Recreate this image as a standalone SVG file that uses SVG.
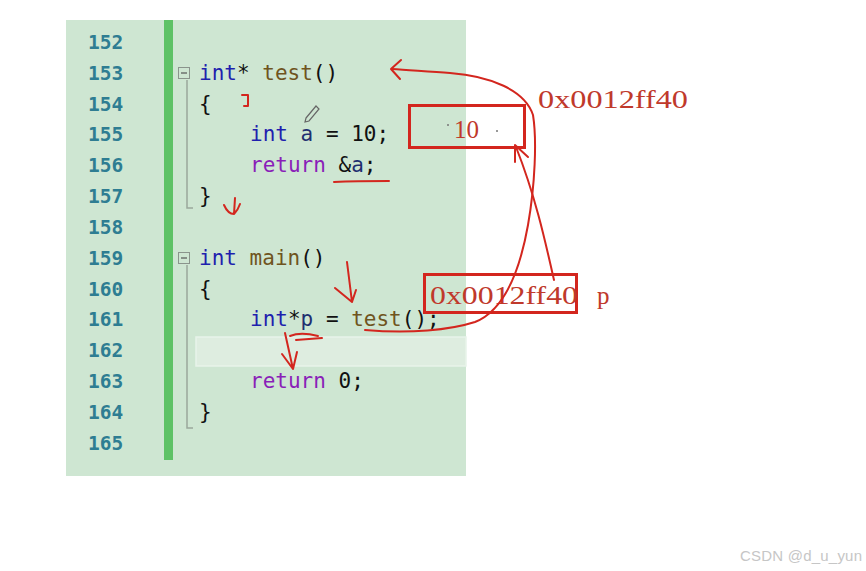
<svg xmlns="http://www.w3.org/2000/svg" width="866" height="571" viewBox="0 0 866 571">
<style>
.ln{font-family:"DejaVu Sans Mono","Liberation Mono",monospace;font-size:19.5px;font-weight:bold;fill:#2e7d92}
.code{font-family:"DejaVu Sans Mono","Liberation Mono",monospace;font-size:21px;fill:#111}
.kw{fill:#1f1fae}
.fn{fill:#6f5420}
.rt{fill:#8a1fb8}
.id{fill:#1f2f70}
.red{fill:none;stroke:#d3261e;stroke-width:2;stroke-linecap:round;stroke-linejoin:round}
.box{fill:none;stroke:#d3261e;stroke-width:3}
.rtx{font-family:"Liberation Serif",serif;font-size:25px;fill:#c0392b}
.guide{fill:none;stroke:#9aa89c;stroke-width:1.5}
</style>
<rect width="866" height="571" fill="#ffffff"/>
<g id="code-panel">
<rect x="66" y="20" width="400" height="456" fill="#cee6d2"/>
<rect x="164" y="20" width="9" height="440" fill="#5ec266"/>
<rect x="196" y="337" width="270" height="29" fill="#deede0" stroke="#e8f3ea" stroke-width="1.5"/>
<g class="ln">
<text x="88" y="49">152</text>
<text x="88" y="80">153</text>
<text x="88" y="111">154</text>
<text x="88" y="141">155</text>
<text x="88" y="172">156</text>
<text x="88" y="203">157</text>
<text x="88" y="234">158</text>
<text x="88" y="265">159</text>
<text x="88" y="296">160</text>
<text x="88" y="326">161</text>
<text x="88" y="357">162</text>
<text x="88" y="388">163</text>
<text x="88" y="419">164</text>
<text x="88" y="450">165</text>
</g>
<rect x="178.5" y="67.5" width="11" height="11" fill="none" stroke="#8a948c" stroke-width="1"/>
<line x1="181" y1="73" x2="187" y2="73" stroke="#555" stroke-width="1.2"/>
<rect x="178.5" y="252.5" width="11" height="11" fill="none" stroke="#8a948c" stroke-width="1"/>
<line x1="181" y1="258" x2="187" y2="258" stroke="#555" stroke-width="1.2"/>
<path class="guide" d="M187,80 V208 H193"/>
<path class="guide" d="M187,265 V428 H193"/>
<g class="code">
<text x="199" y="80"><tspan class="kw">int</tspan>* <tspan class="fn">test</tspan>()</text>
<text x="199" y="111">{</text>
<text x="250" y="141"><tspan class="kw">int</tspan> <tspan class="id">a</tspan> = 10;</text>
<text x="250" y="172"><tspan class="rt">return</tspan> &amp;<tspan class="id">a</tspan>;</text>
<text x="199" y="203">}</text>
<text x="199" y="265"><tspan class="kw">int</tspan> <tspan class="fn">main</tspan>()</text>
<text x="199" y="296">{</text>
<text x="250" y="326"><tspan class="kw">int</tspan>*<tspan class="id">p</tspan> = <tspan class="fn">test</tspan>();</text>
<text x="250" y="388"><tspan class="rt">return</tspan> 0;</text>
<text x="199" y="419">}</text>
</g>
<path d="M306,118 L316,106 L319,109 L309,121 L305,122 Z" fill="none" stroke="#666" stroke-width="1.2"/>
</g>
<g id="box-10">
<rect x="409.5" y="105.5" width="115" height="42" class="box"/>
<text x="454" y="138" class="rtx" font-size="28">10</text>
<circle cx="448" cy="125" r="1" fill="#777"/>
<circle cx="497" cy="131" r="1" fill="#777"/>
</g>
<g id="addr-label">
<text x="538" y="108" class="rtx" textLength="150" lengthAdjust="spacingAndGlyphs">0x0012ff40</text>
</g>
<g id="box-p">
<rect x="424.5" y="274.5" width="152" height="38" class="box"/>
<text x="430" y="304" class="rtx" textLength="148" lengthAdjust="spacingAndGlyphs">0x0012ff40</text>
<text x="597" y="304" class="rtx">p</text>
</g>
<g id="annotations">
<path class="red" d="M242,95 L248,95 L248,106 L244,106"/>
<path class="red" d="M334,182 C355,181 372,181 389,181"/>
<path class="red" d="M235,198 L234,214 M224,205 Q228,214 234,214 Q238,210 240,204"/>
<path class="red" d="M347,262 L352,302 M335,288 L352,302 L356,290"/>
<path class="red" d="M290,336 C300,332 310,334 318,336 M296,340 L322,338"/>
<path class="red" d="M285,333 L293,369 M282,354 L293,369 L297,352"/>
</g>
<g id="connectors">
<path class="red" d="M365,330 C410,334 450,330 475,322 C505,310 520,270 528,225 C535,185 537,140 533,115 C525,90 490,76 450,73 C430,72 410,70 392,69"/>
<path class="red" d="M401,60 L391,69 L400,79"/>
<path class="red" d="M554,280 C545,240 535,195 516,147"/>
<path class="red" d="M515,162 L515,145 L528,157"/>
</g>
<text x="740" y="561" font-family="Liberation Sans,Arial,sans-serif" font-size="15" fill="#c6c6c6" textLength="122">CSDN @d_u_yun</text>
</svg>
